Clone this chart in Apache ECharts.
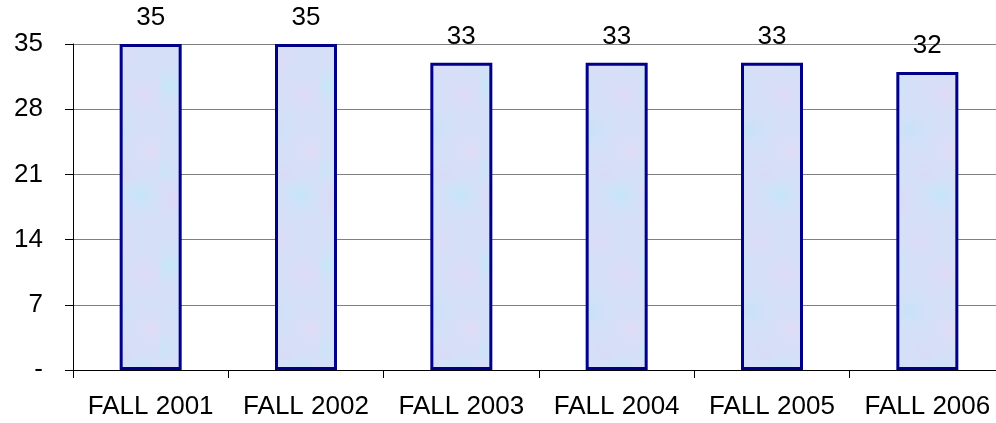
<!DOCTYPE html>
<html>
<head>
<meta charset="utf-8">
<script src="https://cdn.jsdelivr.net/npm/echarts@6/dist/echarts.min.js"></script>
<style>
  html, body { margin: 0; padding: 0; background: #fff; overflow: hidden; }
  /* the plot runs past the right edge in the original, so the canvas is a bit wider than the window */
  #chart { width: 1010px; height: 423px; }
</style>
</head>
<body>
<div id="chart"></div>
<script>
const categories = ['FALL 2001', 'FALL 2002', 'FALL 2003', 'FALL 2004', 'FALL 2005', 'FALL 2006'];
const values = [35, 35, 33, 33, 33, 32];

const FONT = 'Arial, "Liberation Sans", sans-serif';

// soft mottled texture like the original bar fill
function makeTexture() {
  const c = document.createElement('canvas');
  c.width = 80;
  c.height = 180;
  const ctx = c.getContext('2d');
  ctx.fillStyle = '#d5e0f8';
  ctx.fillRect(0, 0, 80, 180);
  const blobs = [
    [15, 20, 30, 'rgba(222,214,246,0.8)'],
    [60, 15, 28, 'rgba(192,230,250,0.8)'],
    [40, 60, 26, 'rgba(226,218,246,0.7)'],
    [10, 85, 28, 'rgba(194,232,250,0.8)'],
    [65, 95, 30, 'rgba(228,216,244,0.7)'],
    [30, 130, 30, 'rgba(196,226,249,0.8)'],
    [70, 150, 26, 'rgba(230,218,244,0.7)'],
    [5, 170, 24, 'rgba(200,230,248,0.7)'],
    [45, 175, 22, 'rgba(220,214,244,0.6)']
  ];
  blobs.forEach(([x, y, r, col]) => {
    const g = ctx.createRadialGradient(x, y, 0, x, y, r);
    g.addColorStop(0, col);
    g.addColorStop(1, 'rgba(213,224,248,0)');
    ctx.fillStyle = g;
    ctx.fillRect(x - r, y - r, r * 2, r * 2);
  });
  return c;
}

const chart = echarts.init(document.getElementById('chart'));

chart.setOption({
  animation: false,
  backgroundColor: '#ffffff',
  grid: {
    left: 73,
    right: 5,
    top: 44,
    bottom: 53
  },
  xAxis: {
    type: 'category',
    data: categories,
    axisLine: { lineStyle: { color: '#000', width: 1 } },
    axisTick: { show: true, interval: 0, length: 8, lineStyle: { color: '#000' } },
    axisLabel: {
      interval: 0,
      hideOverlap: false,
      color: '#000',
      fontFamily: FONT,
      fontSize: 26,
      margin: 24
    },
    splitLine: { show: false }
  },
  yAxis: {
    type: 'value',
    min: 0,
    max: 35,
    interval: 7,
    axisLine: { show: true, lineStyle: { color: '#000', width: 1 } },
    axisTick: { show: true, length: 8, lineStyle: { color: '#000' } },
    axisLabel: {
      color: '#000',
      fontFamily: FONT,
      fontSize: 26,
      margin: 30,
      formatter: v => (v === 0 ? '-' : String(v))
    },
    splitLine: { lineStyle: { color: '#808080', width: 1 } }
  },
  series: [{
    type: 'bar',
    data: values,
    barWidth: 62,
    itemStyle: {
      color: { image: makeTexture(), repeat: 'repeat' },
      borderColor: '#000088',
      borderWidth: 3
    },
    label: {
      show: true,
      position: 'top',
      distance: 13,
      color: '#000',
      fontFamily: FONT,
      fontSize: 26
    }
  }]
});
</script>
</body>
</html>
